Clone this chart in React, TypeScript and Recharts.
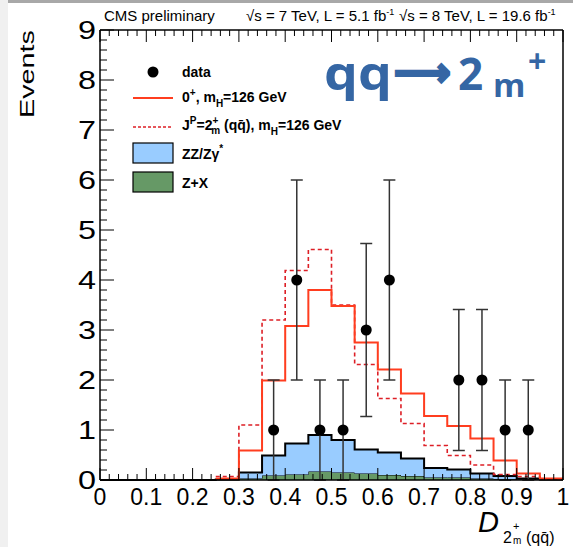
import { Area, ComposedChart, ErrorBar, Line, Scatter, XAxis, YAxis } from "recharts";

// bin edges of the D(2m+ qqbar) histogram, 20 bins of 0.05
const binEdges = [0, 0.05, 0.1, 0.15, 0.2, 0.25, 0.3, 0.35, 0.4, 0.45, 0.5, 0.55, 0.6, 0.65, 0.7, 0.75, 0.8, 0.85, 0.9, 0.95, 1.0];

// expected events per bin
const sm0plus = [null, null, null, null, null, 0.03, 0.59, 1.99, 3.08, 3.8, 3.48, 2.75, 2.21, 1.73, 1.28, 1.08, 0.83, 0.39, 0.13, 0.03];
const qq2mplus = [null, null, null, null, null, 0.07, 1.1, 3.2, 4.19, 4.61, 3.5, 2.31, 1.63, 1.13, 0.69, 0.49, 0.3, 0.11, 0.07, 0.02];
const zzBkg = [0, 0, 0, 0, 0, 0.005, 0.12, 0.4, 0.62, 0.73, 0.65, 0.48, 0.45, 0.35, 0.19, 0.16, 0.1, 0.06, 0.02, 0.005];
const zxBkg = [0, 0, 0, 0, 0, 0.005, 0.03, 0.09, 0.11, 0.17, 0.15, 0.13, 0.1, 0.08, 0.05, 0.05, 0.03, 0.02, 0.01, 0.005];

// observed data
const dataX = [0.375, 0.425, 0.475, 0.525, 0.575, 0.625, 0.775, 0.825, 0.875, 0.925];
const dataN = [1, 4, 1, 1, 3, 4, 2, 2, 1, 1];
const dataErr = [1, 2, 1, 1, 1.73, 2, 1.41, 1.41, 1, 1];

const xLabels = ["0", "0.1", "0.2", "0.3", "0.4", "0.5", "0.6", "0.7", "0.8", "0.9", "1"];
const yLabels = ["0", "1", "2", "3", "4", "5", "6", "7", "8", "9"];

const FONT = "'Liberation Sans', Arial, Helvetica, sans-serif";
const BLUE_TXT = "#3566a4";

const histRows = binEdges.map((x, i) => {
  const b = Math.min(i, sm0plus.length - 1);
  return { x, s0: sm0plus[b], s2: qq2mplus[b], zx: zxBkg[b], zz: zzBkg[b] };
});
const points = dataX.map((x, i) => ({ x, y: dataN[i], err: dataErr[i] }));

const xTicks: number[] = [];
for (let i = 0; i <= 50; i++) xTicks.push(Math.round(i * 2) / 100);
const yTicks: number[] = [];
for (let i = 0; i <= 45; i++) yTicks.push(Math.round(i * 2) / 10);

const isMajor = (v: number, step: number) => Math.abs(v / step - Math.round(v / step)) < 1e-6;

const BottomTick = (p: any) => {
  const v = p.payload.value;
  const major = isMajor(v, 0.1);
  return (
    <g>
      <line x1={p.x} x2={p.x} y1={p.y} y2={p.y - (major ? 12 : 6)} stroke="#000" />
      {major && (
        <text x={p.x} y={p.y + 25} textAnchor="middle" fontSize={23} fontFamily={FONT} fill="#000">
          {xLabels[Math.round(v * 10)]}
        </text>
      )}
    </g>
  );
};

const TopTick = (p: any) => {
  const major = isMajor(p.payload.value, 0.1);
  return <line x1={p.x} x2={p.x} y1={p.y} y2={p.y + (major ? 12 : 6)} stroke="#000" />;
};

const LeftTick = (p: any) => {
  const v = p.payload.value;
  const major = isMajor(v, 1);
  return (
    <g>
      <line x1={p.x} x2={p.x + (major ? 14 : 7)} y1={p.y} y2={p.y} stroke="#000" />
      {major && (
        <text
          x={p.x - 22}
          y={p.y + 9}
          fontSize={25}
          fontFamily={FONT}
          fill="#000"
          textLength={18}
          lengthAdjust="spacingAndGlyphs"
        >
          {yLabels[Math.round(v)]}
        </text>
      )}
    </g>
  );
};

const RightTick = (p: any) => {
  const major = isMajor(p.payload.value, 1);
  return <line x1={p.x} x2={p.x - (major ? 14 : 7)} y1={p.y} y2={p.y} stroke="#000" />;
};

const Overlay = () => (
  <svg width={573} height={547} style={{ position: "absolute", left: 0, top: 0, pointerEvents: "none" }}>
    <rect x={0} y={0} width={8} height={547} fill="#f0f0f0" />
    <rect x={8} y={0} width={565} height={3} fill="#a8a8a8" />

    {/* header */}
    <g fontFamily={FONT} fontSize={15} fill="#000">
      <text x={104} y={21}>CMS preliminary</text>
      <text x={246} y={21}>
        √s = 7 TeV, L = 5.1 fb<tspan dy={-6} fontSize={9}>-1</tspan>
      </text>
      <text x={399} y={21}>
        √s = 8 TeV, L = 19.6 fb<tspan dy={-6} fontSize={9}>-1</tspan>
      </text>
    </g>

    {/* y title */}
    <text
      transform="translate(34,118) rotate(-90)"
      fontFamily={FONT}
      fontSize={21}
      textLength={88}
      lengthAdjust="spacingAndGlyphs"
      fill="#000"
    >
      Events
    </text>

    {/* x title */}
    <g fontFamily={FONT} fill="#000">
      <text x={478} y={532} fontSize={29} fontStyle="italic">D</text>
      <text x={503} y={543} fontSize={16}>2</text>
      <text x={513} y={530} fontSize={11}>+</text>
      <text x={513} y={544} fontSize={10}>m</text>
      <text x={526} y={543} fontSize={16}>(qq̄)</text>
    </g>

    {/* channel label */}
    <g fontFamily="'Open Sans', 'Liberation Sans', sans-serif" fontWeight="bold" fill={BLUE_TXT}>
      <text x={324} y={90} fontSize={46} textLength={68} lengthAdjust="spacingAndGlyphs">qq</text>
      <text
        x={394}
        y={86}
        fontSize={40}
        fontFamily="'DejaVu Sans', sans-serif"
        stroke={BLUE_TXT}
        strokeWidth={2.5}
        textLength={57}
        lengthAdjust="spacingAndGlyphs"
      >
        ⟶
      </text>
      <text x={458} y={90} fontSize={44}>2</text>
      <text x={493} y={97} fontSize={33}>m</text>
      <text x={528} y={73} fontSize={32}>+</text>
    </g>

    {/* legend */}
    <g fontFamily={FONT} fontWeight="bold" fontSize={14} fill="#000">
      <circle cx={153} cy={72} r={5.5} fill="#000" />
      <text x={182} y={77}>data</text>

      <line x1={133} x2={173} y1={98} y2={98} stroke="#ff3d1f" strokeWidth={2} />
      <text x={182} y={102}>
        0<tspan dy={-6} fontSize={10}>+</tspan>
        <tspan dy={6}>, m</tspan>
        <tspan dy={5} fontSize={10}>H</tspan>
        <tspan dy={-5}>=126 GeV</tspan>
      </text>

      <line x1={133} x2={173} y1={127} y2={127} stroke="#dd1f26" strokeWidth={1.5} strokeDasharray="3 2" />
      <text x={182} y={130}>
        J<tspan dy={-6} fontSize={10}>P</tspan>
        <tspan dy={6}>=2</tspan>
        <tspan dy={-6} fontSize={10}>+</tspan>
        <tspan dx={-7} dy={10} fontSize={10}>m</tspan>
        <tspan dy={-4}> (qq̄), m</tspan>
        <tspan dy={5} fontSize={10}>H</tspan>
        <tspan dy={-5}>=126 GeV</tspan>
      </text>

      <rect x={133} y={143} width={40} height={20} fill="#99ccff" stroke="#000" strokeWidth={1.2} />
      <text x={182} y={159}>
        ZZ/Zγ<tspan dy={-7} fontSize={10}>*</tspan>
      </text>

      <rect x={133} y={172} width={40} height={20} fill="#669966" stroke="#000" strokeWidth={1.2} />
      <text x={182} y={188}>Z+X</text>
    </g>
  </svg>
);

export default function App() {
  return (
    <div style={{ position: "absolute", left: 0, top: 0, width: 573, height: 547, background: "#fff" }}>
      <ComposedChart
        width={573}
        height={547}
        data={histRows}
        margin={{ top: 0, right: 0, bottom: 0, left: 0 }}
      >
        <Area
          type="stepAfter"
          dataKey="zx"
          stackId="bkg"
          fill="#669966"
          fillOpacity={1}
          stroke="#000"
          strokeWidth={1}
          isAnimationActive={false}
        />
        <Area
          type="stepAfter"
          dataKey="zz"
          stackId="bkg"
          fill="#99ccff"
          fillOpacity={1}
          stroke="#000"
          strokeWidth={2}
          isAnimationActive={false}
        />
        <Line
          type="stepAfter"
          dataKey="s2"
          stroke="#dd1f26"
          strokeWidth={1.6}
          strokeDasharray="4 3"
          dot={false}
          activeDot={false}
          isAnimationActive={false}
        />
        <Line
          type="stepAfter"
          dataKey="s0"
          stroke="#ff3d1f"
          strokeWidth={2}
          dot={false}
          activeDot={false}
          isAnimationActive={false}
        />
        <Scatter
          data={points}
          dataKey="y"
          isAnimationActive={false}
          shape={(p: any) => <circle cx={p.cx} cy={p.cy} r={5.5} fill="#000" />}
        >
          <ErrorBar dataKey="err" direction="y" width={6} stroke="#333" strokeWidth={1.5} />
        </Scatter>

        <XAxis
          dataKey="x"
          type="number"
          domain={[0, 1]}
          ticks={xTicks}
          interval={0}
          height={67}
          tickSize={0}
          tickMargin={0}
          tickLine={false}
          axisLine={{ stroke: "#000", strokeWidth: 1.5 }}
          tick={(p: any) => <BottomTick {...p} />}
        />
        <XAxis
          xAxisId="top"
          orientation="top"
          dataKey="x"
          type="number"
          domain={[0, 1]}
          ticks={xTicks}
          interval={0}
          height={30}
          tickSize={0}
          tickMargin={0}
          tickLine={false}
          axisLine={{ stroke: "#000", strokeWidth: 1.5 }}
          tick={(p: any) => <TopTick {...p} />}
        />
        <YAxis
          type="number"
          domain={[0, 9]}
          ticks={yTicks}
          interval={0}
          width={100}
          tickSize={0}
          tickMargin={0}
          tickLine={false}
          axisLine={{ stroke: "#000", strokeWidth: 1.5 }}
          tick={(p: any) => <LeftTick {...p} />}
        />
        <YAxis
          yAxisId="right"
          orientation="right"
          type="number"
          domain={[0, 9]}
          ticks={yTicks}
          interval={0}
          width={10}
          tickSize={0}
          tickMargin={0}
          tickLine={false}
          axisLine={{ stroke: "#000", strokeWidth: 1.5 }}
          tick={(p: any) => <RightTick {...p} />}
        />
      </ComposedChart>
      <Overlay />
    </div>
  );
}
